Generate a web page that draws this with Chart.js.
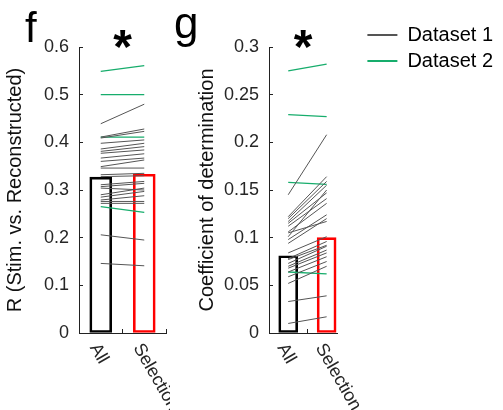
<!DOCTYPE html>
<html>
<head>
<meta charset="utf-8">
<script src="https://cdn.jsdelivr.net/npm/chart.js@4.4.0/dist/chart.umd.min.js"></script>
<style>
  html, body { margin: 0; padding: 0; background: #fff; overflow: hidden; }
  #wrap { position: relative; width: 503px; height: 410px; }
  .box { position: absolute; top: 0; height: 410px; }
  #boxF { left: 0; width: 170px; }
  #boxG { left: 170px; width: 333px; }
</style>
</head>
<body>
<div id="wrap">
  <div class="box" id="boxF"><canvas id="chartF"></canvas></div>
  <div class="box" id="boxG"><canvas id="chartG"></canvas></div>
</div>
<script>
// categories and legend
var categories = ['All', 'Selection'];
var legendNames = ['Dataset 1', 'Dataset 2'];

// panel f: R (stim. vs. reconstructed)
var rBars = [0.327, 0.333];
var rTicks = [0, 0.1, 0.2, 0.3, 0.4, 0.5, 0.6];
var rSet1All = [0.439, 0.411, 0.409, 0.398, 0.386, 0.381, 0.377, 0.367, 0.360, 0.349, 0.346, 0.332,
                0.328, 0.311, 0.307, 0.304, 0.290, 0.285, 0.279, 0.276, 0.272, 0.206, 0.146];
var rSet1Sel = [0.480, 0.428, 0.423, 0.405, 0.398, 0.391, 0.384, 0.376, 0.367, 0.363, 0.346, 0.335,
                0.330, 0.318, 0.314, 0.300, 0.304, 0.297, 0.288, 0.276, 0.272, 0.195, 0.141];
var rSet2All = [0.549, 0.500, 0.411, 0.265];
var rSet2Sel = [0.561, 0.500, 0.411, 0.253];

// panel g: coefficient of determination
var cdBars = [0.081, 0.100];
var cdTicks = [0, 0.05, 0.1, 0.15, 0.2, 0.25, 0.3];
var cdSet1All = [0.145, 0.122, 0.120, 0.117, 0.115, 0.112, 0.106, 0.105, 0.101, 0.098, 0.094,
                 0.084, 0.078, 0.077, 0.073, 0.070, 0.068, 0.064, 0.059, 0.052, 0.033, 0.010];
var cdSet1Sel = [0.208, 0.164, 0.159, 0.155, 0.147, 0.141, 0.136, 0.117, 0.150, 0.124, 0.120,
                 0.101, 0.096, 0.092, 0.091, 0.087, 0.084, 0.080, 0.075, 0.070, 0.039, 0.017];
var cdSet2All = [0.275, 0.229, 0.158, 0.064];
var cdSet2Sel = [0.282, 0.227, 0.156, 0.062];

var FONT = '"Liberation Sans", Arial, Helvetica, sans-serif';
var GRAY = '#555555';
var GREEN = '#17ad6c';
var AXIS = '#222222';

Chart.defaults.font.family = FONT;
Chart.defaults.animation = false;

// one line per recording, from the "All" value to the "Selection" value
function pairLines(allVals, selVals, label, color, width) {
  return allVals.map(function(v, i) {
    return {
      type: 'line', label: label,
      data: [{x: 1, y: v}, {x: 2, y: selVals[i]}],
      borderColor: color, backgroundColor: color,
      borderWidth: width, pointRadius: 0, pointHoverRadius: 0,
      tension: 0, order: 1
    };
  });
}

function barSet(values, thickness) {
  return {
    type: 'bar', label: 'Mean',
    data: values.map(function(v, i) { return {x: i + 1, y: v}; }),
    backgroundColor: 'rgba(255,255,255,0)',
    borderColor: ['#000000', '#ff0000'],
    borderWidth: 2, borderSkipped: false,
    barThickness: thickness, order: 2
  };
}

// panel letter + rotated category names under the x axis
var panelText = {
  id: 'panelText',
  afterDraw: function(chart, args, opts) {
    var ctx = chart.ctx, area = chart.chartArea, xs = chart.scales.x;
    ctx.save();
    ctx.fillStyle = '#000';
    ctx.textAlign = 'left';
    ctx.textBaseline = 'alphabetic';
    ctx.font = opts.letterSize + 'px ' + FONT;
    ctx.fillText(opts.letter, area.left - opts.letterDx, area.top - opts.letterDy);

    ctx.font = '18px ' + FONT;
    ctx.fillStyle = '#262626';
    ctx.textBaseline = 'middle';
    categories.forEach(function(name, i) {
      var px = xs.getPixelForValue(i + 1);
      ctx.save();
      ctx.translate(px - 7, area.bottom + 12);
      ctx.rotate(Math.PI / 3);
      ctx.fillText(name, 0, 0);
      ctx.restore();
    });
    ctx.restore();
  }
};

// ticks point into the plot, as in the original figure
var inwardGrid = {display: true, drawOnChartArea: false, drawTicks: true, tickLength: -4, color: AXIS, lineWidth: 1};

function yScale(maxV, ticks, title, width, titlePad) {
  return {
    min: 0, max: maxV,
    afterBuildTicks: function(s) { s.ticks = ticks.map(function(v) { return {value: v}; }); },
    grid: inwardGrid,
    border: {display: true, color: AXIS, width: 1},
    ticks: {
      font: {size: 18}, color: '#262626', padding: 14,
      callback: function(v) { return String(Math.round(v * 1000) / 1000); }
    },
    title: {display: true, text: title, font: {size: 20}, color: '#111', padding: {top: titlePad, bottom: 0}},
    afterFit: function(s) { s.width = width; }
  };
}

function xScale(maxV) {
  return {
    type: 'linear', min: 0.5, max: maxV, offset: false,
    afterBuildTicks: function(s) { s.ticks = categories.map(function(c, i) { return {value: i + 1}; }); },
    grid: inwardGrid,
    border: {display: true, color: AXIS, width: 1},
    ticks: {display: false},
    afterFit: function(s) { s.height = 0; }
  };
}

var starTitle = {
  display: true, text: '*', fullSize: false, align: 'center', color: '#000',
  font: {size: 48, weight: 'bold', lineHeight: '28px'},
  padding: {top: 17, bottom: -17}
};

new Chart(document.getElementById('chartF'), {
  type: 'bar',
  data: {
    datasets: [barSet(rBars, 22)]
      .concat(pairLines(rSet1All, rSet1Sel, legendNames[0], GRAY, 1))
      .concat(pairLines(rSet2All, rSet2Sel, legendNames[1], GREEN, 1.3))
  },
  options: {
    responsive: true, maintainAspectRatio: false, events: [],
    layout: {padding: {top: 19, left: 0, right: 4, bottom: 77}},
    scales: {
      x: xScale(2.5),
      y: yScale(0.6, rTicks, 'R (Stim. vs. Reconstructed)', 79, 3)
    },
    plugins: {
      legend: {display: false},
      tooltip: {enabled: false},
      title: starTitle,
      panelText: {letter: 'f', letterSize: 42, letterDx: 54, letterDy: 5}
    }
  },
  plugins: [panelText]
});

var AREA_RIGHT_G = 167;
new Chart(document.getElementById('chartG'), {
  type: 'bar',
  data: {
    datasets: [barSet(cdBars, 19)]
      .concat(pairLines(cdSet1All, cdSet1Sel, legendNames[0], GRAY, 1))
      .concat(pairLines(cdSet2All, cdSet2Sel, legendNames[1], GREEN, 1.3))
  },
  options: {
    responsive: true, maintainAspectRatio: false, events: [],
    layout: {padding: {top: 19, left: 0, right: 0, bottom: 77}},
    scales: {
      x: xScale(2.27),
      y: yScale(0.3, cdTicks, 'Coefficient of determination', 99, 25),
      // empty spacer between the plot and the legend
      pad: {
        type: 'linear', position: 'right', display: true,
        grid: {display: false, drawTicks: false}, border: {display: false}, ticks: {display: false},
        afterFit: function(s) {
          var lw = s.chart.legend ? s.chart.legend.width : 0;
          s.width = Math.max(0, s.chart.width - AREA_RIGHT_G - lw);
        }
      }
    },
    plugins: {
      legend: {
        display: true, position: 'right', align: 'start', fullSize: true, maxWidth: 200,
        labels: {
          boxWidth: 30, boxHeight: 2, padding: 6, color: '#111', font: {size: 20},
          generateLabels: function() {
            return legendNames.map(function(name, i) {
              var c = i === 0 ? GRAY : GREEN;
              return {text: name, fillStyle: c, strokeStyle: c, lineWidth: 0, hidden: false, datasetIndex: i};
            });
          }
        }
      },
      tooltip: {enabled: false},
      title: starTitle,
      panelText: {letter: 'g', letterSize: 44, letterDx: 95, letterDy: 9}
    }
  },
  plugins: [panelText]
});
</script>
</body>
</html>
